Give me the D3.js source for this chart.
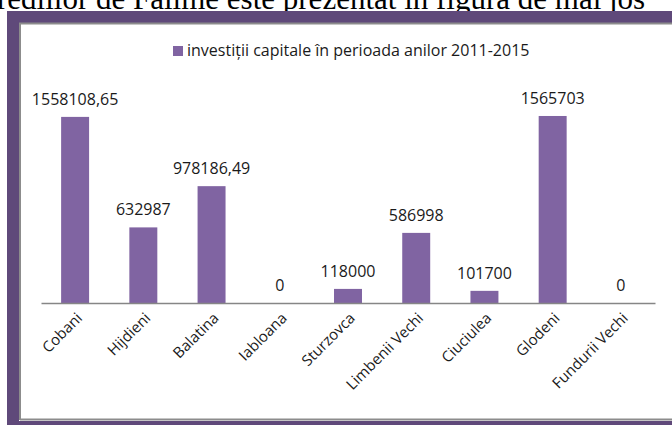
<!DOCTYPE html>
<html>
<head>
<meta charset="utf-8">
<script src="https://cdn.jsdelivr.net/npm/d3@7"></script>
<style>
  body { margin: 0; background: #fff; }
  svg { display: block; }
  .val, .cat, .legend text { font-family: "Open Sans", sans-serif; fill: #1a1a1a; }
</style>
</head>
<body>
<div id="chart"></div>
<script>
var svgWidth = 672;
var svgHeight = 425;

// data
var categories = ["Cobani", "Hijdieni", "Balatina", "Iabloana", "Sturzovca",
  "Limbenii Vechi", "Ciuciulea", "Glodeni", "Fundurii Vechi"];
var values = [1558108.65, 632987, 978186.49, 0, 118000, 586998, 101700, 1565703, 0];
var valueLabels = ["1558108,65", "632987", "978186,49", "0", "118000",
  "586998", "101700", "1565703", "0"];
var seriesName = "investiții capitale în perioada anilor 2011-2015";
var pageText = "rediilor de Fălime este prezentat în figura de mai jos";

var plot = { left: 41, right: 655, top: 88, bottom: 303 };

var svg = d3.select("#chart")
  .append("svg")
  .attr("width", svgWidth)
  .attr("height", svgHeight);

// page text, cut off at the top like in the scan
svg.append("text")
  .attr("x", -3)
  .attr("y", 9)
  .attr("font-family", "'Liberation Serif', 'Times New Roman', serif")
  .attr("font-size", 31)
  .attr("fill", "#000")
  .text(pageText);

// purple frame with grey inner line
svg.append("rect").attr("x", 7).attr("y", 11).attr("width", 680).attr("height", 12).attr("fill", "#5f497a");
svg.append("rect").attr("x", 7).attr("y", 11).attr("width", 12).attr("height", 420).attr("fill", "#5f497a");
svg.append("rect").attr("x", 7).attr("y", 421).attr("width", 680).attr("height", 10).attr("fill", "#5f497a");
svg.append("path")
  .attr("d", "M20,420 V23.5 H680 M20,419.5 H680")
  .attr("fill", "none")
  .attr("stroke", "#8c8c8c")
  .attr("stroke-width", 2);

var x = d3.scaleBand()
  .domain(categories)
  .range([plot.left, plot.right])
  .paddingInner(0.59)
  .paddingOuter(0.295);

var y = d3.scaleLinear()
  .domain([0, 1800000])
  .range([plot.bottom, plot.top]);

var chartGroup = svg.append("g");

chartGroup.selectAll(".bar")
  .data(values)
  .enter()
  .append("rect")
  .classed("bar", true)
  .attr("x", (d, i) => x(categories[i]))
  .attr("y", d => y(d))
  .attr("width", x.bandwidth())
  .attr("height", d => y(0) - y(d))
  .attr("fill", "#8064a2");

// x axis line, no ticks
var bottomAxis = d3.axisBottom(x).tickSize(0).tickFormat("");
var xAxis = chartGroup.append("g")
  .attr("transform", `translate(0, ${plot.bottom})`)
  .call(bottomAxis);
xAxis.select(".domain").attr("stroke", "#868686").attr("stroke-width", 1.3);

// value labels
chartGroup.selectAll(".val")
  .data(values)
  .enter()
  .append("text")
  .classed("val", true)
  .attr("x", (d, i) => x(categories[i]) + x.bandwidth() / 2)
  .attr("y", d => y(d) - 12)
  .attr("text-anchor", "middle")
  .attr("font-size", 16)
  .text((d, i) => valueLabels[i]);

// rotated category labels
chartGroup.selectAll(".cat")
  .data(categories)
  .enter()
  .append("text")
  .classed("cat", true)
  .attr("text-anchor", "end")
  .attr("font-size", 15)
  .attr("transform", d => `translate(${x(d) + x.bandwidth() / 2 + 8}, ${plot.bottom + 16}) rotate(-45)`)
  .text(d => d);

// legend
var legend = svg.append("g").classed("legend", true);
legend.append("rect")
  .attr("x", 173).attr("y", 46)
  .attr("width", 10).attr("height", 10)
  .attr("fill", "#8064a2");
legend.append("text")
  .attr("x", 187)
  .attr("y", 56)
  .attr("font-size", 16)
  .text(seriesName);
</script>
</body>
</html>
